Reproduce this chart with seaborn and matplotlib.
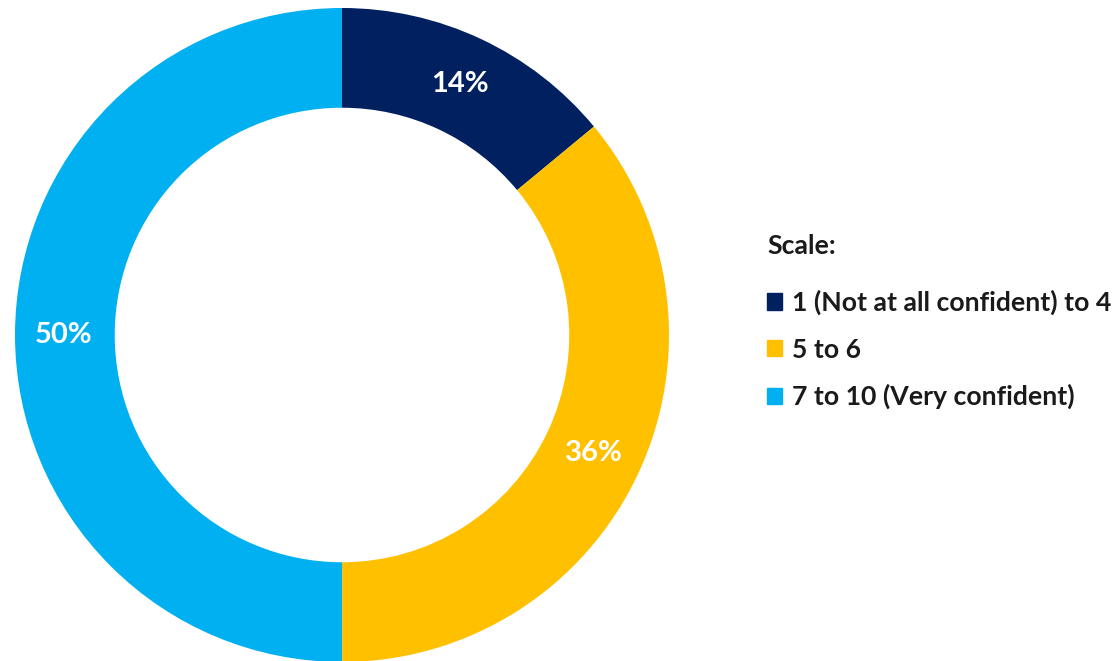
import matplotlib
matplotlib.use("Agg")
import matplotlib.pyplot as plt
import seaborn as sns

# Survey responses: confidence on a 1-10 scale, grouped into three bands
categories = ["1 (Not at all confident) to 4", "5 to 6", "7 to 10 (Very confident)"]
shares = [14, 36, 50]
colors = ["#002060", "#FFC000", "#00B0F0"]
legend_title = "Scale:"

sns.set_theme(style="white")
plt.rcParams["font.family"] = ["Lato", "DejaVu Sans"]

W, H = 1114, 661
fig = plt.figure(figsize=(W / 100, H / 100), dpi=100)
fig.patch.set_facecolor("white")

# Donut centred at (342, 335) px with outer radius 327 px
cx, cy, R = 342, 335, 327
ax = fig.add_axes([(cx - R) / W, (H - cy - R) / H, 2 * R / W, 2 * R / H])

wedges, texts, autotexts = ax.pie(
    shares,
    colors=sns.color_palette(colors),
    startangle=90,
    counterclock=False,
    radius=1.0,
    wedgeprops=dict(width=0.305, edgecolor="none", linewidth=0),
    autopct=lambda p: f"{p:.0f}%",
    pctdistance=0.85,
    textprops=dict(color="white", fontsize=21, fontweight="bold"),
)
ax.set_xlim(-1, 1)
ax.set_ylim(-1, 1)
ax.set_aspect("equal")
ax.axis("off")

handles = [plt.Rectangle((0, 0), 1, 1, color=c) for c in colors]
leg = fig.legend(
    handles,
    categories,
    title=legend_title,
    loc="upper left",
    bbox_to_anchor=(767 / W, 1 - 234 / H),
    frameon=False,
    prop=dict(size=19.2, weight="bold"),
    title_fontproperties=dict(size=19.2, weight="bold"),
    alignment="left",
    handlelength=0.57,
    handleheight=0.57,
    handletextpad=0.38,
    labelspacing=0.84,
    borderpad=0,
    borderaxespad=0,
)
leg._legend_box.sep = 23
for t in leg.get_texts():
    t.set_color("#1a1a1a")
leg.get_title().set_color("#1a1a1a")

fig.savefig("out.png", dpi=100, facecolor="white")
